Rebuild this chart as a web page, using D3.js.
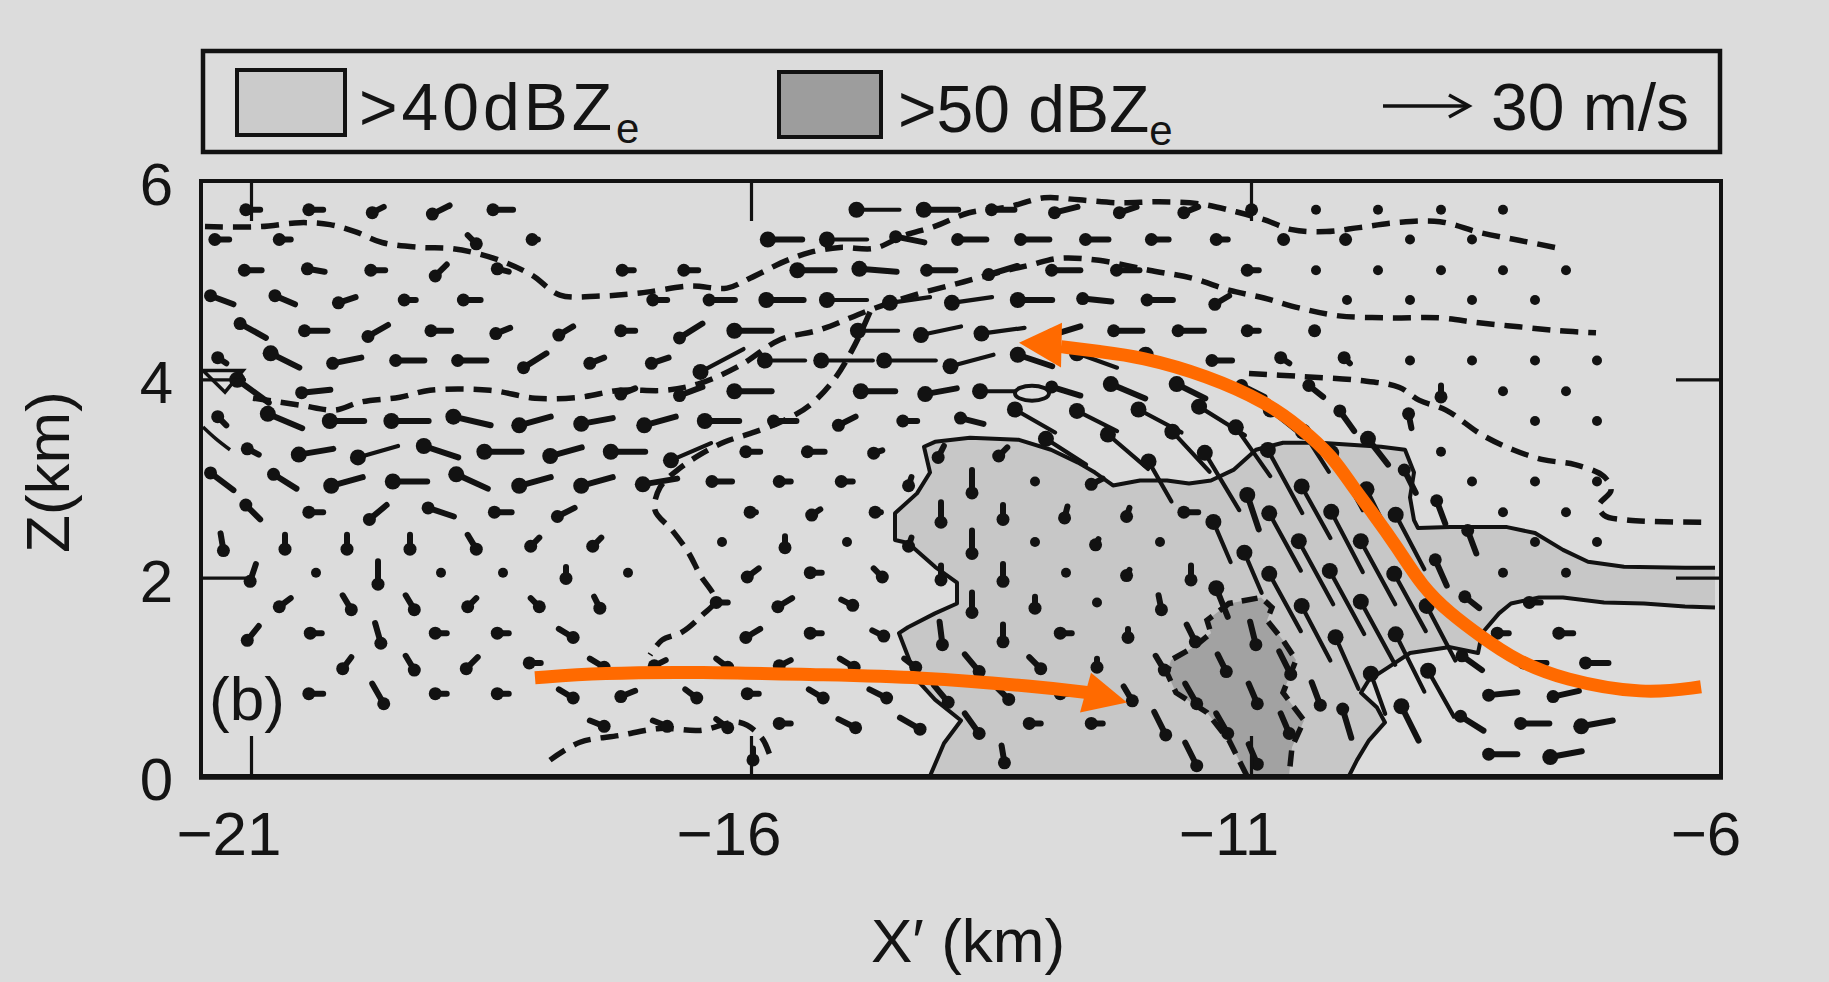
<!DOCTYPE html>
<html>
<head>
<meta charset="utf-8">
<script src="https://cdn.jsdelivr.net/npm/d3@7"></script>
<style>
    html, body { margin: 0; padding: 0; background: #dcdcdc; }
    svg { display: block; }
    text { font-family: "Liberation Sans", Arial, sans-serif; fill: #141414; }
</style>
</head>
<body>
<div id="chart"></div>
<script>

// ---------- data ----------

// heights (km) of the vector rows, top row first
const levelZ = [5.71, 5.41, 5.10, 4.80, 4.49, 4.19, 3.88, 3.58, 3.27, 2.97, 2.66, 2.36, 2.05, 1.75, 1.44, 1.14, 0.83, 0.53, 0.22];

// X' positions (km) of the staggered columns
const colsEven = [-21.60, -20.98, -20.35, -19.73, -19.10, -18.48, -17.85, -17.23, -16.60, -15.98, -15.35, -14.73, -14.10,
    -13.48, -12.85, -12.23, -11.60, -10.98, -10.35, -9.73, -9.10, -8.48, -7.85, -7.23, -6.60];
const colsOdd = [-21.29, -20.66, -20.04, -19.41, -18.79, -18.16, -17.54, -16.91, -16.29, -15.66, -15.04, -14.41, -13.79,
    -13.16, -12.54, -11.91, -11.29, -10.66, -10.04, -9.41, -8.79, -8.16, -7.54, -6.91];

// wind (u, w in m/s) per row; null = no vector
const windRows = [
    [null,[-5,0],[-5,0],[-4,-2],[-6,-3],[-7,0],null,null,null,null,null,[-15,0],[-12,0],[-8,0],[-8,-2],[-6,-2],[-5,-2],[-1,0],[0,0],[0,0],[0,0],[0,0]],
    [[-5,0],[-4,0],null,null,[3,-3],[-2,0],null,null,null,[-12,0],[-14,0],[-10,2],[-10,0],[-10,0],[-8,0],[-6,0],[-4,0],[-1,0],[-1,0],[0,0],[0,0]],
    [null,[-6,0],[-6,1],[-5,0],[-4,-4],[-4,1],null,[-4,0],[-5,0],null,[-13,0],[-13,1],[-10,0],[-10,-3],[-10,0],[-8,0],null,[-4,0],[0,0],[0,0],[0,0],[0,0],[0,0]],
    [[-8,3],[-7,3],[-6,-2],[-4,0],[-6,0],null,null,[-5,0],[-9,0],[-13,0],[-14,0],[-14,-2],[-14,-2],[-12,0],[-10,1],[-9,0],[-5,-3],null,[0,0],[0,0],[0,0],[0,0]],
    [null,[-9,5],[-8,0],[-7,-4],[-7,0],[-5,-2],[-5,-3],[-5,0],[-8,-5],[-13,0],null,[-14,0],[-14,-3],[-15,-2],[-10,-3],[-10,0],[-9,0],[-4,0],[-1,0]],
    [[-3,2],[-10,5],[-10,-2],[-10,0],[-10,0],[-8,-5],[-5,-2],[-6,-2],[-15,-8],[-14,0],[-18,0],[-18,0],[-15,-4],[-12,4],[-14,5],[-10,4],[-7,0],[-3,2],[-2,2],[0,0],[0,0],[0,0],[0,0]],
    [null,[-11,8],[-10,-1],null,null,null,null,[-5,-2],[-8,-3],[-13,0],null,[-12,0],[-11,-2],[-16,0],[-10,3],[-12,5],[-10,5],[-8,4],[-5,4],null,[0,-4],[0,0],[0,0]],
    [[-3,3],[-12,5],[-12,0],[-13,0],[-13,3],[-11,-3],[-11,-2],[-11,-3],[-12,0],[-8,0],[-6,-3],[-5,0],[-8,2],[-14,8],[-14,7],[-15,8],[-16,10],[-10,8],[-5,7],[-1,5],null,[0,0],[0,0]],
    [null,[-4,2],[-12,-2],[-14,-4],[-12,4],[-13,0],[-11,-3],[-12,0],[-14,-6],[-5,0],[-6,0],[-3,-1],[-2,-4],[-3,-3],[-14,9],[-14,12],[-13,14],[-12,17],[-9,14],[-7,9],[0,0]],
    [[-8,6],[-8,5],[-11,-3],[-12,0],[-11,5],[-11,-3],[-11,-3],[-12,-2],[-7,0],[-4,0],[-4,0],[-1,-3],[0,-8],[0,0],[-4,-2],[-8,14],[-12,20],[-12,22],[-11,20],[-4,8],[0,0],[0,0],[0,0]],
    [null,[-5,5],[-5,0],[-6,-5],[-9,3],[-6,0],[-6,-3],null,null,[-2,0],[-3,-2],[-2,0],[0,-7],[0,-5],[-1,-4],[-1,-3],[-5,0],[-4,12],[-10,18],[-8,16],[-3,8],[0,0],[0,0]],
    [[1,-6],[0,-5],[0,-5],[0,-5],[3,-5],[-3,-3],[-3,-3],null,[0,0],[0,-4],[0,0],[-1,-3],[0,-8],[0,0],[-1,-2],[0,0],[-6,14],[-11,20],[-11,21],[-10,19],[-3,8],[0,0],[0,0]],
    [null,[-2,-6],[0,0],[0,-8],[0,0],[0,0],[0,-4],[0,0],null,[-4,-3],[-4,0],[3,-3],[0,-5],[0,-6],[0,0],[-1,-2],[0,-5],[-6,14],[-12,22],[-12,22],[-4,9],[0,0],[0,0]],
    [null,[-4,-3],[3,-5],[3,-5],[-3,-3],[3,-3],[2,-4],null,[-4,0],[-5,-3],[4,-2],null,[0,-7],[0,-4],[0,0],[1,-5],[-4,10],[-11,20],[-12,22],[-11,20],[-5,4],[-4,0]],
    [null,[-4,-5],[-4,0],[2,-7],[-4,0],[-4,0],[5,-3],null,null,[-5,-3],[-4,0],[4,-2],[1,-8],[0,-6],[-4,0],[0,-3],[3,-6],[2,-8],[-10,19],[-12,22],[-10,19],[-4,0],[-5,0]],
    [null,null,[-3,-4],[3,-5],[-4,-4],[-4,0],[5,-3],[-4,-2],[4,-3],[-4,-2],[5,-3],[4,-3],[5,-6],[4,-4],[0,-3],[3,-5],[3,-6],[4,-8],[-8,18],[-10,20],[-7,5],[-8,0],[-8,0]],
    [null,null,[-5,0],[4,-7],[-4,0],[-4,0],[5,-3],[-5,-2],[4,-3],[-4,0],[5,-3],[6,-3],[5,-6],[4,-4],[-4,0],[3,-5],[4,-7],[3,-7],[3,-8],[-5,14],[-9,16],[-10,-1],[-9,-2]],
    [null,null,null,null,null,null,[5,-2],[5,-2],[4,-3],[-4,0],[6,-3],[7,-4],[5,-7],[-4,0],[-4,0],[4,-8],[4,-7],[3,-7],[-3,10],[-6,12],[-8,5],[-10,0],[-11,-2]],
    [null,null,null,null,null,null,null,null,null,[0,-4],null,null,null,[1,-6],null,null,[4,-8],[3,-7],null,null,null,[-10,0],[-11,-2]]
];

// >40 dBZe outline (solid), upper branch then lower branch
const dbz40Upper = [[-14.21,0],[-14.07,0.33],[-13.90,0.56],[-14.16,0.77],[-14.34,0.97],[-14.52,1.44],[-14.43,1.50],[-14.16,1.64],
    [-13.94,1.74],[-13.94,1.95],[-14.16,2.11],[-14.43,2.35],[-14.56,2.38],[-14.56,2.65],[-14.34,2.85],[-14.21,3.06],[-14.27,3.32],
    [-14.16,3.37],[-13.81,3.41],[-13.32,3.39],[-13.00,3.29],[-12.73,3.16],[-12.56,3.06],[-12.38,2.93],[-12.11,2.98],[-11.84,2.98],
    [-11.62,2.95],[-11.40,2.98],[-11.17,3.09],[-10.95,3.29],[-10.68,3.36],[-10.31,3.36],[-9.70,3.32],[-9.46,3.29],[-9.37,3.06],
    [-9.41,2.81],[-9.37,2.58],[-9.33,2.50],[-9.01,2.51],[-8.44,2.51],[-8.16,2.45],[-7.88,2.28],[-7.63,2.16],[-7.27,2.11],
    [-6.66,2.10],[-6.36,2.10]];
const dbz40Lower = [[-6.36,1.70],[-6.66,1.71],[-7.07,1.74],[-7.47,1.75],[-7.88,1.80],[-8.12,1.80],[-8.40,1.74],[-8.52,1.64],
    [-8.69,1.44],[-8.73,1.24],[-9.01,1.30],[-9.41,1.24],[-9.62,1.10],[-9.82,0.97],[-9.90,0.84],[-9.74,0.69],[-9.66,0.54],
    [-9.82,0.36],[-9.94,0.16],[-10.02,0]];

// >50 dBZe outline (dashed)
const dbz50 = [[-11.04,0],[-11.22,0.36],[-11.44,0.64],[-11.75,0.84],[-11.84,1.04],[-11.80,1.17],[-11.57,1.30],[-11.40,1.44],
    [-11.44,1.57],[-11.22,1.74],[-10.90,1.80],[-10.79,1.70],[-10.84,1.57],[-10.68,1.37],[-10.55,1.17],[-10.68,0.84],
    [-10.47,0.56],[-10.59,0.29],[-10.62,0]];

// other dashed contours
const dashTop = [[-21.46,5.54],[-20.91,5.54],[-20.51,5.58],[-20.21,5.56],[-19.96,5.49],[-19.69,5.38],[-19.31,5.33],[-19.01,5.32],
    [-18.74,5.27],[-18.46,5.18],[-18.19,5.05],[-17.91,4.85],[-17.51,4.84],[-17.11,4.87],[-16.61,4.94],[-16.24,4.92],[-16.01,5.02],
    [-15.64,5.20],[-15.41,5.28],[-15.11,5.33],[-14.77,5.32],[-14.47,5.45],[-14.17,5.54],[-13.82,5.68],[-13.42,5.74],[-13.07,5.83],
    [-12.72,5.81],[-12.32,5.78],[-11.92,5.79],[-11.52,5.77],[-11.15,5.69],[-10.87,5.61],[-10.59,5.51],[-10.25,5.49],[-9.92,5.53],
    [-9.55,5.58],[-9.11,5.59],[-8.71,5.48],[-8.31,5.40],[-7.91,5.32]];
const dashMid = [[-20.98,3.81],[-20.51,3.74],[-20.16,3.69],[-19.91,3.77],[-19.51,3.82],[-19.21,3.89],[-18.61,3.89],[-18.16,3.81],
    [-17.71,3.82],[-17.31,3.89],[-16.86,3.89],[-16.51,3.96],[-16.11,4.14],[-15.71,4.40],[-15.31,4.50],[-14.81,4.70],[-14.37,4.85],
    [-13.92,4.97],[-13.52,5.08],[-13.22,5.15],[-12.92,5.22],[-12.52,5.20],[-12.02,5.10],[-11.59,5.02],[-11.22,4.90],[-10.87,4.82],
    [-10.52,4.72],[-10.12,4.64],[-9.62,4.62],[-9.12,4.62],[-8.72,4.57],[-8.32,4.53],[-7.92,4.49],[-7.55,4.47]];
const dashBranch = [[-14.81,4.68],[-14.96,4.35],[-15.16,4.01],[-15.41,3.74],[-15.66,3.59],[-15.96,3.47],[-16.26,3.37],[-16.51,3.24],
    [-16.73,3.09],[-16.91,2.91],[-16.96,2.68],[-16.79,2.48],[-16.63,2.26],[-16.51,2.03],[-16.36,1.77],[-16.49,1.62],[-16.69,1.45],
    [-16.89,1.37],[-17.01,1.22]];
const dashLow = [[-18.01,0.16],[-17.71,0.34],[-17.31,0.41],[-16.91,0.48],[-16.51,0.46],[-16.11,0.54],[-15.89,0.38],[-15.79,0.14]];
const dashRight = [[-11.02,4.06],[-10.52,4.03],[-9.92,3.99],[-9.52,3.92],[-9.32,3.79],[-9.05,3.69],[-8.69,3.44],[-8.38,3.29],
    [-8.08,3.19],[-7.76,3.14],[-7.47,3.02],[-7.40,2.88],[-7.52,2.73],[-7.47,2.63],[-7.22,2.58],[-6.46,2.56]];

// small extra marks
const leftArc = [[-21.48,3.52],[-21.35,3.40],[-21.21,3.29]];
const leftTriangle = [[-21.48,4.09],[-21.08,4.09],[-21.26,3.87]];
const ovalCenter = [-13.19, 3.86];

// orange flow annotations
const rearFlow = [[-18.16,0.99],[-17.51,1.04],[-16.51,1.05],[-15.32,1.02],[-14.32,1.00],[-13.12,0.90],[-12.62,0.84]];
const rearHead = [[-12.24,0.74],[-12.60,1.04],[-12.71,0.64]];
const frontFlow = [[-6.50,0.90],[-7.07,0.82],[-7.88,0.97],[-8.36,1.17],[-8.69,1.40],[-9.01,1.64],[-9.29,1.91],[-9.54,2.31],
    [-9.78,2.65],[-9.98,2.91],[-10.18,3.22],[-10.51,3.52],[-10.83,3.76],[-11.44,4.04],[-12.11,4.23],[-12.52,4.28],[-12.90,4.33]];
const frontHead = [[-13.32,4.37],[-12.89,4.57],[-12.90,4.12]];

// axes
const xTicks = [-21, -16, -11, -6];
const zTicks = [0, 2, 4, 6];
const refSpeed = 30;


class WindSectionVis {

    constructor(parentElement) {
        this.parentElement = parentElement;
        this.initVis();
    }

    initVis() {
        let vis = this;

        vis.width = 1829;
        vis.height = 982;
        vis.frame = {left: 201, right: 1721, top: 181, bottom: 776};
        vis.ink = "#121212";

        vis.svg = d3.select("#" + vis.parentElement).append("svg")
            .attr("width", vis.width)
            .attr("height", vis.height);

        vis.svg.append("rect")
            .attr("width", vis.width).attr("height", vis.height)
            .attr("fill", "#dcdcdc");

        vis.x = d3.scaleLinear().domain([-21.5, -6.3]).range([vis.frame.left, vis.frame.right]);
        vis.y = d3.scaleLinear().domain([0, 6]).range([vis.frame.bottom, vis.frame.top]);

        // px per m/s (30 m/s reference arrow)
        vis.k = 86 / refSpeed;

        vis.svg.append("clipPath").attr("id", "plotClip")
            .append("rect")
            .attr("x", vis.frame.left).attr("y", vis.frame.top)
            .attr("width", vis.frame.right - vis.frame.left)
            .attr("height", vis.frame.bottom - vis.frame.top);

        vis.plot = vis.svg.append("g").attr("clip-path", "url(#plotClip)");

        vis.line = d3.line().x(d => vis.x(d[0])).y(d => vis.y(d[1]));
        vis.smooth = d3.line().x(d => vis.x(d[0])).y(d => vis.y(d[1])).curve(d3.curveCatmullRom.alpha(0.5));

        vis.wrangleData();
    }

    wrangleData() {
        let vis = this;

        vis.vectors = [];
        windRows.forEach((row, i) => {
            let cols = i % 2 === 0 ? colsEven : colsOdd;
            row.forEach((v, j) => {
                if (!v) return;
                vis.vectors.push({x: cols[j], z: levelZ[i], u: v[0], w: v[1]});
            });
        });

        vis.updateVis();
    }

    updateVis() {
        let vis = this;

        // reflectivity shading
        vis.plot.append("path")
            .attr("d", vis.line(dbz40Upper.concat(dbz40Lower)) + "Z")
            .attr("fill", "#c7c7c7");
        vis.plot.append("path")
            .attr("d", vis.line(dbz50) + "Z")
            .attr("fill", "#a2a2a2");

        // dashed contours
        [dashTop, dashMid, dashBranch, dashLow, dashRight].forEach(c => {
            vis.plot.append("path")
                .attr("d", vis.smooth(c))
                .attr("fill", "none")
                .attr("stroke", vis.ink)
                .attr("stroke-width", 5.5)
                .attr("stroke-dasharray", "18,10");
        });
        vis.plot.append("path")
            .attr("d", vis.line(dbz50))
            .attr("fill", "none")
            .attr("stroke", vis.ink)
            .attr("stroke-width", 5.5)
            .attr("stroke-dasharray", "16,9");

        // wind vectors: thick line from tail to head, blob on the head
        let vg = vis.plot.append("g");
        vis.vectors.forEach(d => {
            let cx = vis.x(d.x), cy = vis.y(d.z);
            let dx = d.u * vis.k, dy = -d.w * vis.k;
            let len = Math.hypot(dx, dy);
            if (len < 2) {
                vg.append("circle").attr("cx", cx).attr("cy", cy).attr("r", 5).attr("fill", vis.ink);
                return;
            }
            vg.append("line")
                .attr("x1", cx - dx / 2).attr("y1", cy - dy / 2)
                .attr("x2", cx + dx / 2).attr("y2", cy + dy / 2)
                .attr("stroke", vis.ink)
                .attr("stroke-width", len > 40 ? 4.2 : 6)
                .attr("stroke-linecap", "round");
            vg.append("circle")
                .attr("cx", cx + dx / 2).attr("cy", cy + dy / 2)
                .attr("r", len > 30 ? 8 : 6.5)
                .attr("fill", vis.ink);
        });

        // >40 dBZe solid outline
        [dbz40Upper, dbz40Lower].forEach(c => {
            vis.plot.append("path")
                .attr("d", vis.line(c))
                .attr("fill", "none")
                .attr("stroke", vis.ink)
                .attr("stroke-width", 4)
                .attr("stroke-linejoin", "round");
        });

        // small marks
        vis.plot.append("path").attr("d", vis.smooth(leftArc))
            .attr("fill", "none").attr("stroke", vis.ink).attr("stroke-width", 3.5);
        vis.plot.append("path").attr("d", vis.line(leftTriangle) + "Z")
            .attr("fill", "none").attr("stroke", vis.ink).attr("stroke-width", 3.5);
        vis.plot.append("ellipse")
            .attr("cx", vis.x(ovalCenter[0])).attr("cy", vis.y(ovalCenter[1]))
            .attr("rx", 17).attr("ry", 7.5)
            .attr("fill", "#dcdcdc").attr("stroke", vis.ink).attr("stroke-width", 4);

        vis.drawFrame();
        vis.drawLegend();
        vis.drawFlow();
    }

    drawFrame() {
        let vis = this;
        let f = vis.frame;

        vis.svg.append("rect")
            .attr("x", f.left).attr("y", f.top)
            .attr("width", f.right - f.left).attr("height", f.bottom - f.top)
            .attr("fill", "none").attr("stroke", vis.ink).attr("stroke-width", 4);
        vis.svg.append("line")
            .attr("x1", f.left - 2).attr("x2", f.right + 2)
            .attr("y1", f.bottom + 1).attr("y2", f.bottom + 1)
            .attr("stroke", vis.ink).attr("stroke-width", 5.5);

        let inner = xTicks.filter(v => vis.x(v) < f.right - 5);
        let innerZ = zTicks.filter(v => v > 0 && v < 6);

        let axes = [
            vis.svg.append("g").attr("transform", `translate(0,${f.bottom})`)
                .call(d3.axisBottom(vis.x).tickValues(inner).tickSize(-40).tickFormat("")),
            vis.svg.append("g").attr("transform", `translate(0,${f.top})`)
                .call(d3.axisTop(vis.x).tickValues(inner).tickSize(-40).tickFormat("")),
            vis.svg.append("g").attr("transform", `translate(${f.left},0)`)
                .call(d3.axisLeft(vis.y).tickValues(innerZ).tickSize(-45).tickFormat("")),
            vis.svg.append("g").attr("transform", `translate(${f.right},0)`)
                .call(d3.axisRight(vis.y).tickValues(innerZ).tickSize(-45).tickFormat(""))
        ];
        axes.forEach(a => {
            a.select(".domain").remove();
            a.selectAll(".tick line").attr("stroke", vis.ink).attr("stroke-width", 3.2);
        });

        // tick labels
        vis.svg.selectAll(".xlab").data(xTicks).enter().append("text")
            .attr("class", "xlab")
            .attr("x", d => Math.min(vis.x(d) - 22, 1706))
            .attr("y", 855)
            .attr("text-anchor", "middle")
            .attr("font-size", 62)
            .text(d => "\u2212" + Math.abs(d));

        vis.svg.selectAll(".zlab").data(zTicks).enter().append("text")
            .attr("class", "zlab")
            .attr("x", 173)
            .attr("y", d => vis.y(d) + 24)
            .attr("text-anchor", "end")
            .attr("font-size", 60)
            .text(d => d);

        // axis titles
        vis.svg.append("text")
            .attr("x", 968).attr("y", 962)
            .attr("text-anchor", "middle")
            .attr("font-size", 62)
            .text("X\u2032 (km)");

        vis.svg.append("text")
            .attr("transform", "translate(69,472) rotate(-90)")
            .attr("text-anchor", "middle")
            .attr("font-size", 62)
            .text("Z(km)");

        vis.svg.append("text")
            .attr("x", 209).attr("y", 720)
            .attr("font-size", 62)
            .text("(b)");
    }

    drawLegend() {
        let vis = this;
        let lg = vis.svg.append("g");

        lg.append("rect")
            .attr("x", 203).attr("y", 51).attr("width", 1517).attr("height", 101)
            .attr("fill", "none").attr("stroke", vis.ink).attr("stroke-width", 4.5);

        lg.append("rect")
            .attr("x", 237).attr("y", 70).attr("width", 108).attr("height", 65)
            .attr("fill", "#cbcbcb").attr("stroke", vis.ink).attr("stroke-width", 4);
        lg.append("rect")
            .attr("x", 779).attr("y", 72).attr("width", 102).attr("height", 65)
            .attr("fill", "#9d9d9d").attr("stroke", vis.ink).attr("stroke-width", 4);

        let t1 = lg.append("text").attr("x", 359).attr("y", 130)
            .attr("font-size", 66).attr("letter-spacing", 4);
        t1.append("tspan").text(">40dBZ");
        t1.append("tspan").attr("font-size", 42).attr("dy", 13).attr("letter-spacing", 0).text("e");

        let t2 = lg.append("text").attr("x", 898).attr("y", 132).attr("font-size", 66);
        t2.append("tspan").text(">50 dBZ");
        t2.append("tspan").attr("font-size", 42).attr("dy", 13).text("e");

        // reference vector
        let ax = 1383, ay = 106, len = refSpeed * vis.k;
        lg.append("line")
            .attr("x1", ax).attr("x2", ax + len).attr("y1", ay).attr("y2", ay)
            .attr("stroke", vis.ink).attr("stroke-width", 3.5);
        lg.append("polyline")
            .attr("points", `${ax + len - 20},${ay - 11} ${ax + len},${ay} ${ax + len - 20},${ay + 11}`)
            .attr("fill", "none").attr("stroke", vis.ink).attr("stroke-width", 3.5);
        lg.append("text")
            .attr("x", 1491).attr("y", 130)
            .attr("font-size", 66)
            .text(refSpeed + " m/s");
    }

    drawFlow() {
        let vis = this;
        let orange = "#ff6a00";
        let curve = d3.line().x(d => vis.x(d[0])).y(d => vis.y(d[1])).curve(d3.curveBasis);

        [rearFlow, frontFlow].forEach(c => {
            vis.svg.append("path")
                .attr("d", curve(c))
                .attr("fill", "none")
                .attr("stroke", orange)
                .attr("stroke-width", 13);
        });
        [rearHead, frontHead].forEach(h => {
            vis.svg.append("path")
                .attr("d", vis.line(h) + "Z")
                .attr("fill", orange);
        });
    }
}

let myVis = new WindSectionVis("chart");

</script>
</body>
</html>
